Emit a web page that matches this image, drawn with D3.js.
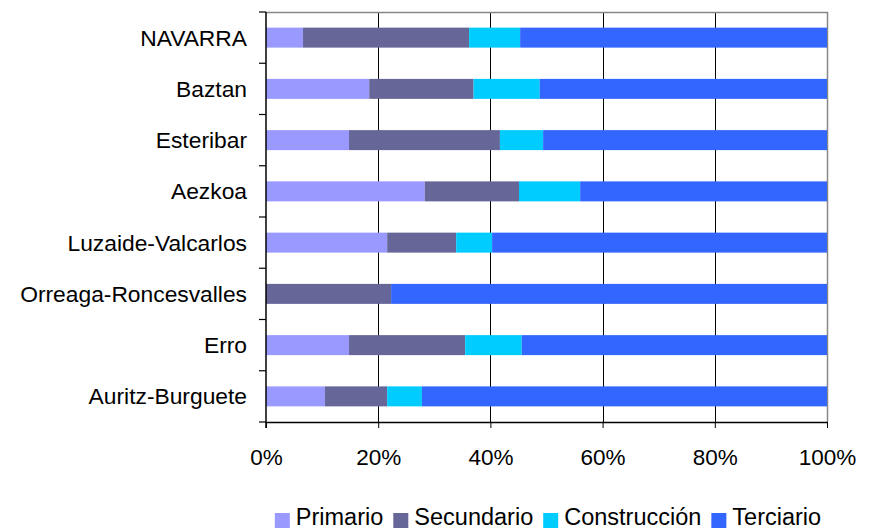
<!DOCTYPE html>
<html>
<head>
<meta charset="utf-8">
<script src="https://cdn.jsdelivr.net/npm/d3@7"></script>
<style>
  body { margin: 0; background: #fff; }
  svg text { font-family: "Liberation Sans", Arial, sans-serif; fill: #000; }
</style>
</head>
<body>
<svg></svg>
<script>
var width = 873;
var height = 530;

// data (shares in %)
var categories = ["NAVARRA", "Baztan", "Esteribar", "Aezkoa", "Luzaide-Valcarlos",
  "Orreaga-Roncesvalles", "Erro", "Auritz-Burguete"];
var series = ["Primario", "Secundario", "Construcción", "Terciario"];
var primario     = [6.6, 18.4, 14.8, 28.3, 21.6, 0.0, 14.8, 10.5];
var secundario   = [29.6, 18.6, 26.9, 16.8, 12.3, 22.3, 20.7, 11.1];
var construccion = [9.1, 11.8, 7.7, 10.9, 6.4, 0.0, 10.1, 6.2];
var terciario    = [54.7, 51.2, 50.6, 44.0, 59.7, 77.7, 54.4, 72.2];
var xTicks = [0, 0.2, 0.4, 0.6, 0.8, 1];
var colors = ["#9999ff", "#666699", "#00ccff", "#3366ff"];

var svg = d3.select("svg")
  .attr("width", width)
  .attr("height", height);

var plotL = 266, plotR = 827, plotT = 12, plotB = 422;

var rows = categories.map(function(c, i) {
  return {cat: c, "Primario": primario[i], "Secundario": secundario[i],
    "Construcción": construccion[i], "Terciario": terciario[i]};
});

var stack = d3.stack().keys(series).offset(d3.stackOffsetExpand);
var layers = stack(rows);

var x = d3.scaleLinear().domain([0, 1]).range([plotL, plotR]);
var y = d3.scaleBand().domain(categories).range([plotT, plotB])
  .paddingInner(0.61).paddingOuter(0.305);
var color = d3.scaleOrdinal().domain(series).range(colors);

// gridlines
svg.append("g")
  .selectAll("line")
  .data(xTicks.slice(1, -1))
  .enter().append("line")
    .attr("x1", function(d) { return Math.round(x(d)) + 0.5; })
    .attr("x2", function(d) { return Math.round(x(d)) + 0.5; })
    .attr("y1", plotT)
    .attr("y2", plotB)
    .attr("stroke", "#000")
    .attr("stroke-width", 1);

// frame top + right
svg.append("path")
  .attr("d", "M" + plotL + "," + (plotT + 0.5) + "H" + (plotR + 0.5) + "V" + plotB)
  .attr("fill", "none")
  .attr("stroke", "#888")
  .attr("stroke-width", 1.5);

// bars
svg.append("g")
  .selectAll("g")
  .data(layers)
  .enter().append("g")
    .attr("fill", function(d) { return color(d.key); })
  .selectAll("rect")
  .data(function(d) { return d; })
  .enter().append("rect")
    .attr("x", function(d) { return x(d[0]); })
    .attr("width", function(d) { return x(d[1]) - x(d[0]); })
    .attr("y", function(d) { return y(d.data.cat); })
    .attr("height", y.bandwidth());

// x axis
var xAxis = svg.append("g")
  .attr("transform", "translate(0," + plotB + ")")
  .call(d3.axisBottom(x).tickValues(xTicks).tickFormat(d3.format(".0%"))
    .tickSize(6).tickSizeOuter(0).tickPadding(21));
xAxis.select(".domain").attr("stroke", "#000").attr("stroke-width", 1.5);
xAxis.selectAll("line").attr("stroke", "#000");
xAxis.selectAll("text").style("font-size", "22.5px").attr("fill", "#000");

// y axis with ticks between categories
var step = y.step();
var yAxis = svg.append("g");
yAxis.append("line")
  .attr("x1", plotL).attr("x2", plotL)
  .attr("y1", plotT).attr("y2", plotB + 6)
  .attr("stroke", "#000").attr("stroke-width", 1.5);
yAxis.selectAll(".tk")
  .data(d3.range(categories.length + 1))
  .enter().append("line")
    .attr("class", "tk")
    .attr("x1", plotL - 7).attr("x2", plotL)
    .attr("y1", function(i) { return plotT + i * step; })
    .attr("y2", function(i) { return plotT + i * step; })
    .attr("stroke", "#000").attr("stroke-width", 1.2);
yAxis.selectAll(".lbl")
  .data(categories)
  .enter().append("text")
    .attr("class", "lbl")
    .attr("x", plotL - 19)
    .attr("y", function(d) { return y(d) + y.bandwidth() / 2; })
    .attr("dy", "0.35em")
    .attr("text-anchor", "end")
    .style("font-size", "22.8px")
    .text(function(d) { return d; });

// legend
var legend = svg.append("g");
var items = legend.selectAll("g")
  .data(series)
  .enter().append("g");
items.append("rect")
  .attr("width", 15).attr("height", 15)
  .attr("y", -12)
  .attr("fill", function(d) { return color(d); });
items.append("text")
  .attr("x", 21)
  .attr("y", 0)
  .style("font-size", "23.5px")
  .text(function(d) { return d; });
var pos = 0;
items.each(function() {
  var g = d3.select(this);
  g.attr("transform", "translate(" + pos + ",0)");
  pos += 21 + g.select("text").node().getComputedTextLength() + 10;
});
pos -= 10;
legend.attr("transform", "translate(" + (548 - pos / 2) + ",525)");
</script>
</body>
</html>
